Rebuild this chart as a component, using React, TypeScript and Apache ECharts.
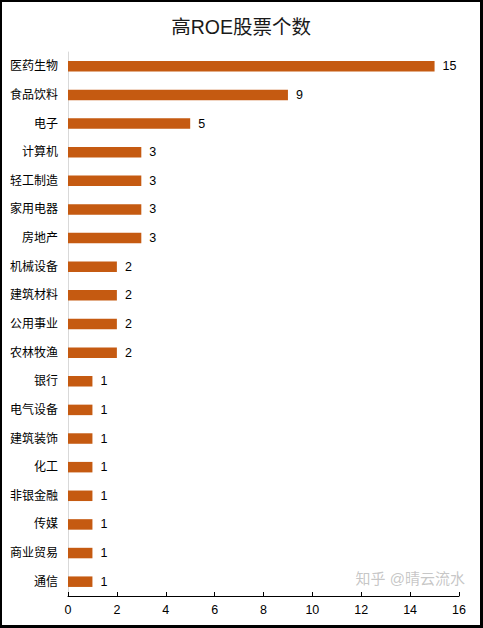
import React, { useEffect, useRef } from "react";
import * as echarts from "echarts";

const categories = ["医药生物", "食品饮料", "电子", "计算机", "轻工制造", "家用电器", "房地产", "机械设备", "建筑材料", "公用事业", "农林牧渔", "银行", "电气设备", "建筑装饰", "化工", "非银金融", "传媒", "商业贸易", "通信"];
const counts = [15, 9, 5, 3, 3, 3, 3, 2, 2, 2, 2, 1, 1, 1, 1, 1, 1, 1, 1];
const xTicks = [0, 2, 4, 6, 8, 10, 12, 14, 16];

const FONT = "'Liberation Sans', 'Noto Sans CJK SC', sans-serif";

export default function App() {
  const ref = useRef<HTMLDivElement>(null);
  useEffect(() => {
    document.body.style.margin = "0";
    if (!ref.current) return;
    const chart = echarts.init(ref.current, undefined, { renderer: "svg" });
    chart.setOption({
      animation: false,
      backgroundColor: "#fff",
      title: {
        text: "高ROE股票个数",
        left: "center",
        top: 10,
        textStyle: { fontFamily: FONT, fontSize: 19.5, fontWeight: "normal", color: "#1a1a1a" },
      },
      grid: { left: 66, right: 21, top: 50, bottom: 29, containLabel: false },
      xAxis: {
        type: "value",
        min: xTicks[0],
        max: xTicks[xTicks.length - 1],
        interval: 2,
        splitLine: { show: false },
        axisLine: { show: true, lineStyle: { color: "#000", width: 1 } },
        axisTick: { show: true, inside: true, length: 4, lineStyle: { color: "#000" } },
        axisLabel: { color: "#000", fontSize: 12.5, fontFamily: FONT, margin: 8 },
      },
      yAxis: {
        type: "category",
        inverse: true,
        data: categories,
        axisLine: { show: true, lineStyle: { color: "#d9d9d9", width: 1 } },
        axisTick: { show: false },
        axisLabel: { color: "#000", fontSize: 12, fontFamily: FONT, margin: 10 },
      },
      series: [
        {
          type: "bar",
          data: counts,
          barWidth: 10.5,
          itemStyle: { color: "#C55A11" },
          label: {
            show: true,
            position: "right",
            distance: 8,
            color: "#000",
            fontSize: 12.5,
            fontFamily: FONT,
          },
        },
      ],
      graphic: [
        {
          type: "text",
          right: 14,
          bottom: 38,
          style: {
            text: "知乎 @晴云流水",
            fill: "rgba(150,150,150,0.55)",
            stroke: "rgba(255,255,255,0.8)",
            lineWidth: 2,
            font: `15px ${FONT}`,
          },
        },
      ],
    });
    return () => chart.dispose();
  }, []);
  return (
    <div
      style={{
        position: "absolute",
        left: 0,
        top: 0,
        width: 483,
        height: 628,
        boxSizing: "border-box",
        borderLeft: "2px solid #000",
        borderTop: "2px solid #000",
        borderRight: "3px solid #000",
        borderBottom: "3px solid #000",
        background: "#fff",
      }}
    >
      <div ref={ref} style={{ width: 478, height: 623 }} />
    </div>
  );
}
